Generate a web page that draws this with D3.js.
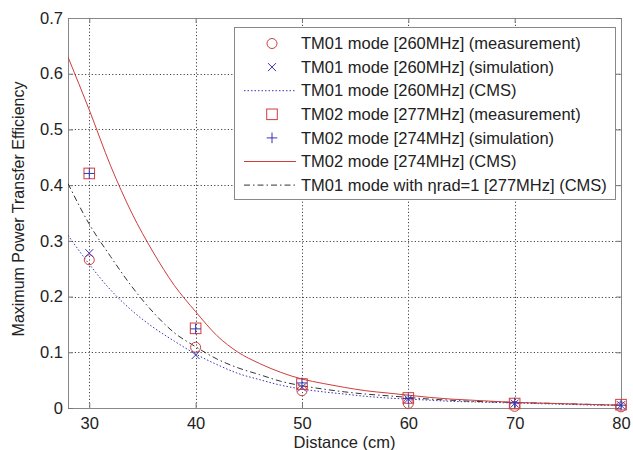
<!DOCTYPE html>
<html><head><meta charset="utf-8">
<script src="https://cdn.jsdelivr.net/npm/d3@7"></script>
<style>
body{margin:0;background:#fff;}
text{font-family:"Liberation Sans",Arial,Helvetica,sans-serif;fill:#222;}
</style></head>
<body><svg id="c" width="633" height="450"></svg>
<script>
// ---- data ----
const distances = [30, 40, 50, 60, 70, 80];
const tm01Meas = [0.266, 0.109, 0.031, 0.008, 0.003, 0.002];
const tm01Sim  = [0.278, 0.095, 0.037, 0.016, 0.008, 0.005];
const tm02Meas = [0.421, 0.143, 0.043, 0.018, 0.008, 0.006];
const tm02Sim  = [0.421, 0.142, 0.045, 0.017, 0.009, 0.005];

const cmsDist = [28,30,32,34,36,38,40,42,44,46,48,50,52,54,56,58,60,62,64,66,68,70,72,74,76,78,80];
const tm01Cms = [0.310,0.258,0.212,0.175,0.145,0.120,0.097,0.078,0.062,0.051,0.041,0.034,0.029,0.025,0.021,0.018,0.016,0.014,0.012,0.011,0.010,0.009,0.008,0.007,0.006,0.005,0.005];
const tm02Cms = [0.630,0.535,0.435,0.350,0.280,0.220,0.173,0.130,0.100,0.080,0.064,0.052,0.044,0.037,0.031,0.027,0.023,0.019,0.016,0.014,0.012,0.010,0.009,0.008,0.007,0.006,0.005];
const tm01Eta1 = [0.403,0.330,0.272,0.218,0.172,0.135,0.110,0.088,0.072,0.060,0.048,0.040,0.034,0.029,0.025,0.022,0.019,0.016,0.014,0.012,0.011,0.010,0.009,0.008,0.007,0.006,0.005];

const xTicks = [30, 40, 50, 60, 70, 80];
const yTicks = [0, 0.1, 0.2, 0.3, 0.4, 0.5, 0.6, 0.7];
const yTickLabels = ["0", "0.1", "0.2", "0.3", "0.4", "0.5", "0.6", "0.7"];
const legendLabels = [
  "TM01 mode [260MHz] (measurement)",
  "TM01 mode [260MHz] (simulation)",
  "TM01 mode [260MHz] (CMS)",
  "TM02 mode [277MHz] (measurement)",
  "TM02 mode [274MHz] (simulation)",
  "TM02 mode [274MHz] (CMS)",
  "TM01 mode with \u03B7rad=1 [277MHz] (CMS)"
];
const xLabel = "Distance (cm)";
const yLabel = "Maximum Power Transfer Efficiency";

// ---- styles ----
const RED = "#d03c3c", BLUE = "#3535b5", DARK = "#333";
const FS = 16.5;
const L = 68, R = 621, T = 18, B = 408;

const svg = d3.select("#c");
const x = d3.scaleLinear().domain([28, 80]).range([L, R]);
const y = d3.scaleLinear().domain([0, 0.7]).range([B, T]);

// grid
const grid = svg.append("g").attr("stroke", "#444").attr("stroke-width", 1).attr("stroke-dasharray", "1.2,2.2");
grid.selectAll(".gx").data(xTicks).join("line")
  .attr("x1", d => Math.round(x(d)) + 0.5).attr("x2", d => Math.round(x(d)) + 0.5).attr("y1", T).attr("y2", B);
grid.selectAll(".gy").data(yTicks.slice(1)).join("line")
  .attr("y1", d => Math.round(y(d)) + 0.5).attr("y2", d => Math.round(y(d)) + 0.5).attr("x1", L).attr("x2", R);

// axes
const fmtY = d => yTickLabels[yTicks.indexOf(d)];
const axB = svg.append("g").attr("transform", `translate(0,${B})`)
  .call(d3.axisBottom(x).tickValues(xTicks).tickSizeInner(-5).tickSizeOuter(0).tickPadding(9).tickFormat(d => d));
const axL = svg.append("g").attr("transform", `translate(${L},0)`)
  .call(d3.axisLeft(y).tickValues(yTicks).tickSizeInner(-5).tickSizeOuter(0).tickPadding(5).tickFormat(fmtY));
const axT = svg.append("g").attr("transform", `translate(0,${T})`)
  .call(d3.axisTop(x).tickValues(xTicks).tickSizeInner(-5).tickSizeOuter(0).tickFormat(""));
const axR = svg.append("g").attr("transform", `translate(${R},0)`)
  .call(d3.axisRight(y).tickValues(yTicks).tickSizeInner(-5).tickSizeOuter(0).tickFormat(""));
[axB, axL, axT, axR].forEach(a => {
  a.selectAll("path.domain").attr("stroke", "#888");
  a.selectAll(".tick line").attr("stroke", "#777");
  a.selectAll("text").attr("font-size", FS).attr("fill", "#222")
    .attr("font-family", "'Liberation Sans',Arial,Helvetica,sans-serif");
});

// clip
svg.append("clipPath").attr("id", "clip").append("rect").attr("x", L).attr("y", T).attr("width", R - L).attr("height", B - T);
const plot = svg.append("g").attr("clip-path", "url(#clip)");

const line = d3.line().curve(d3.curveMonotoneX).x((d, i) => x(cmsDist[i])).y(d => y(d));
plot.append("path").attr("d", line(tm01Cms)).attr("fill", "none").attr("stroke", BLUE).attr("stroke-width", 1).attr("stroke-dasharray", "1.5,2");
plot.append("path").attr("d", line(tm01Eta1)).attr("fill", "none").attr("stroke", DARK).attr("stroke-width", 1).attr("stroke-dasharray", "6,3,1.5,3");
plot.append("path").attr("d", line(tm02Cms)).attr("fill", "none").attr("stroke", RED).attr("stroke-width", 1);

// marker drawers
function circle(g, cx, cy) { g.append("circle").attr("cx", cx).attr("cy", cy).attr("r", 5).attr("fill", "none").attr("stroke", RED).attr("stroke-width", 1); }
function square(g, cx, cy) { g.append("rect").attr("x", cx - 5.3).attr("y", cy - 5.3).attr("width", 10.6).attr("height", 10.6).attr("fill", "none").attr("stroke", RED).attr("stroke-width", 1); }
function cross(g, cx, cy) { const s = 4; g.append("path").attr("d", `M${cx-s},${cy-s}L${cx+s},${cy+s}M${cx-s},${cy+s}L${cx+s},${cy-s}`).attr("stroke", BLUE).attr("stroke-width", 1).attr("fill", "none"); }
function plus(g, cx, cy) { const s = 5.3; g.append("path").attr("d", `M${cx-s},${cy}L${cx+s},${cy}M${cx},${cy-s}L${cx},${cy+s}`).attr("stroke", BLUE).attr("stroke-width", 1).attr("fill", "none"); }

const mk = svg.append("g");
distances.forEach((d, i) => {
  circle(mk, x(d), y(tm01Meas[i]));
  cross(mk, x(d), y(tm01Sim[i]));
  square(mk, x(d), y(tm02Meas[i]));
  plus(mk, x(d), y(tm02Sim[i]));
});

// legend
const lg = svg.append("g");
lg.append("rect").attr("x", 234.5).attr("y", 27.5).attr("width", 381).attr("height", 172).attr("fill", "#fff").attr("stroke", "#888");
const rowY = i => 43.5 + i * 23.6;
const symX = 272;
legendLabels.forEach((t, i) => {
  lg.append("text").attr("x", 301).attr("y", rowY(i)).attr("dy", "0.35em").attr("font-size", FS).text(t);
});
circle(lg, symX, rowY(0));
cross(lg, symX, rowY(1));
lg.append("line").attr("x1", 244).attr("x2", 296).attr("y1", rowY(2)).attr("y2", rowY(2)).attr("stroke", BLUE).attr("stroke-dasharray", "1.5,2");
square(lg, symX, rowY(3));
plus(lg, symX, rowY(4));
lg.append("line").attr("x1", 244).attr("x2", 296).attr("y1", rowY(5)).attr("y2", rowY(5)).attr("stroke", RED);
lg.append("line").attr("x1", 244).attr("x2", 296).attr("y1", rowY(6)).attr("y2", rowY(6)).attr("stroke", DARK).attr("stroke-dasharray", "6,3,1.5,3");

// axis labels
svg.append("text").attr("x", (L + R) / 2).attr("y", 448).attr("text-anchor", "middle").attr("font-size", FS).text(xLabel);
svg.append("text").attr("transform", `translate(24,${(T + B) / 2 - 4}) rotate(-90)`).attr("text-anchor", "middle").attr("font-size", FS - 0.5).text(yLabel);
</script></body></html>
